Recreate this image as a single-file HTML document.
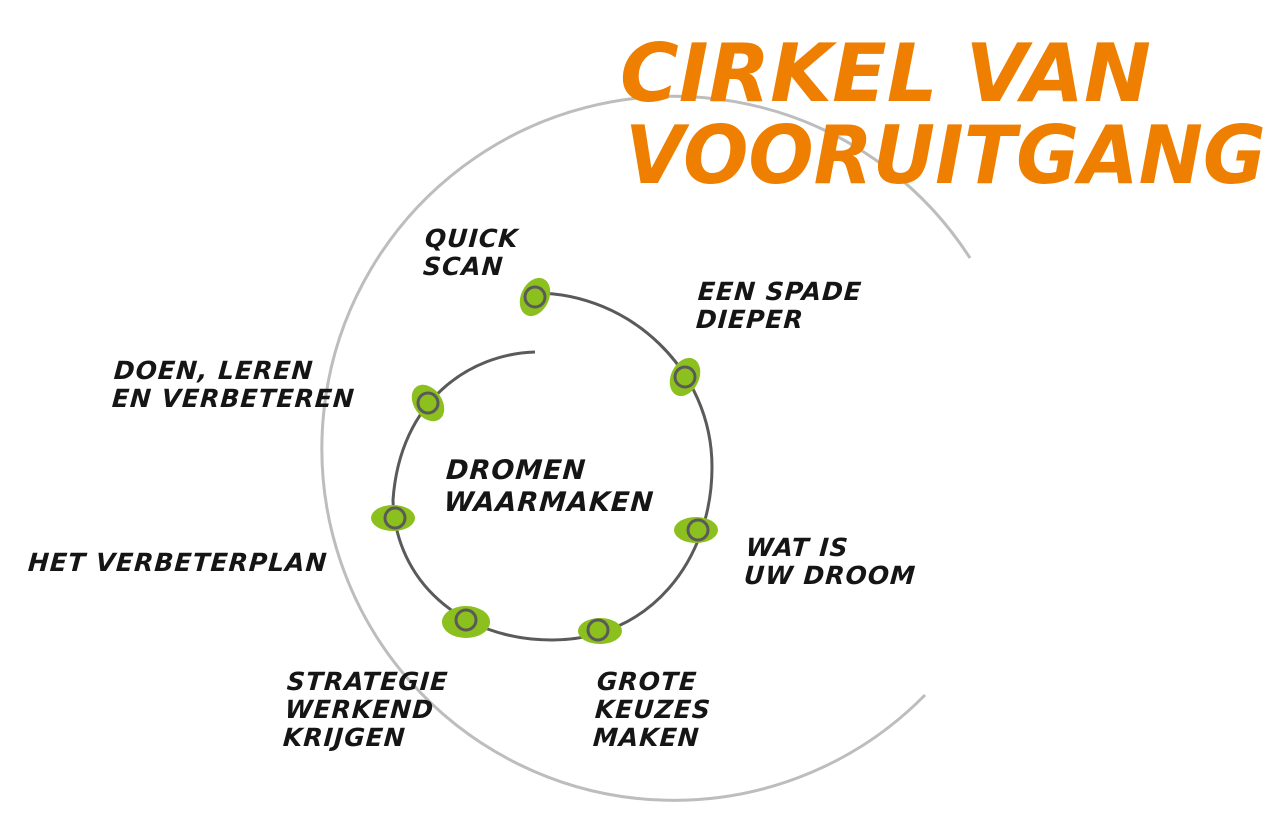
<!DOCTYPE html>
<html><head><meta charset="utf-8"><style>
html,body{margin:0;padding:0;background:#fff}
body{width:1278px;height:819px;position:relative;overflow:hidden;font-family:"DejaVu Sans","Liberation Sans",sans-serif}
.t{position:absolute;font-weight:900;color:#151515;font-size:25px;line-height:28px;letter-spacing:1px;font-style:italic;transform:skewX(-4deg)}
.h{position:absolute;color:#ee7f00;font-weight:900;font-size:80px;line-height:80px;letter-spacing:0px;font-family:"DejaVu Sans",sans-serif;font-style:italic;transform-origin:0 0;white-space:nowrap}
</style></head><body>
<svg width="1278" height="819" style="position:absolute;left:0;top:0">
<path d="M970,258 A352 352 0 1 0 925,695" fill="none" stroke="#bdbdbd" stroke-width="3"/>
<path d="M535,352 C470,354 400,400 393,500 C395,580 460,640 552,640 C650,640 712,560 712,467 C712,370 630,293 535,293" fill="none" stroke="#5a5a5a" stroke-width="3"/>
<g fill="#8cc01e">
<ellipse cx="535" cy="297" rx="14" ry="20" transform="rotate(25 535 297)"/>
<ellipse cx="685" cy="377" rx="14" ry="20" transform="rotate(25 685 377)"/>
<ellipse cx="428" cy="403" rx="14" ry="20" transform="rotate(-35 428 403)"/>
<ellipse cx="696" cy="530" rx="22" ry="13"/>
<ellipse cx="393" cy="518" rx="22" ry="13"/>
<ellipse cx="466" cy="622" rx="24" ry="16"/>
<ellipse cx="600" cy="631" rx="22" ry="13"/>
</g>
<g fill="#8cc01e" stroke="#5a5a5a" stroke-width="3">
<circle cx="535" cy="297" r="10"/><circle cx="685" cy="377" r="10"/><circle cx="428" cy="403" r="10"/>
<circle cx="698" cy="530" r="10"/><circle cx="395" cy="518" r="10"/><circle cx="466" cy="620" r="10"/><circle cx="598" cy="630" r="10"/>
</g>
</svg>
<div class="h" style="left:620px;top:34px;transform:scaleX(1.0)">CIRKEL VAN</div>
<div class="h" style="left:625px;top:116px;transform:scaleX(0.96)">VOORUITGANG</div>
<div class="t" style="left:424px;top:225px">QUICK<br>SCAN</div>
<div class="t" style="left:697px;top:278px">EEN SPADE<br>DIEPER</div>
<div class="t" style="left:113px;top:357px">DOEN, LEREN<br>EN VERBETEREN</div>
<div class="t" style="left:445px;top:455px;font-size:27px;line-height:32px">DROMEN<br>WAARMAKEN</div>
<div class="t" style="left:745px;top:534px">WAT IS<br>UW DROOM</div>
<div class="t" style="left:28px;top:549px">HET VERBETERPLAN</div>
<div class="t" style="left:285px;top:668px">STRATEGIE<br>WERKEND<br>KRIJGEN</div>
<div class="t" style="left:595px;top:668px">GROTE<br>KEUZES<br>MAKEN</div>
</body></html>
